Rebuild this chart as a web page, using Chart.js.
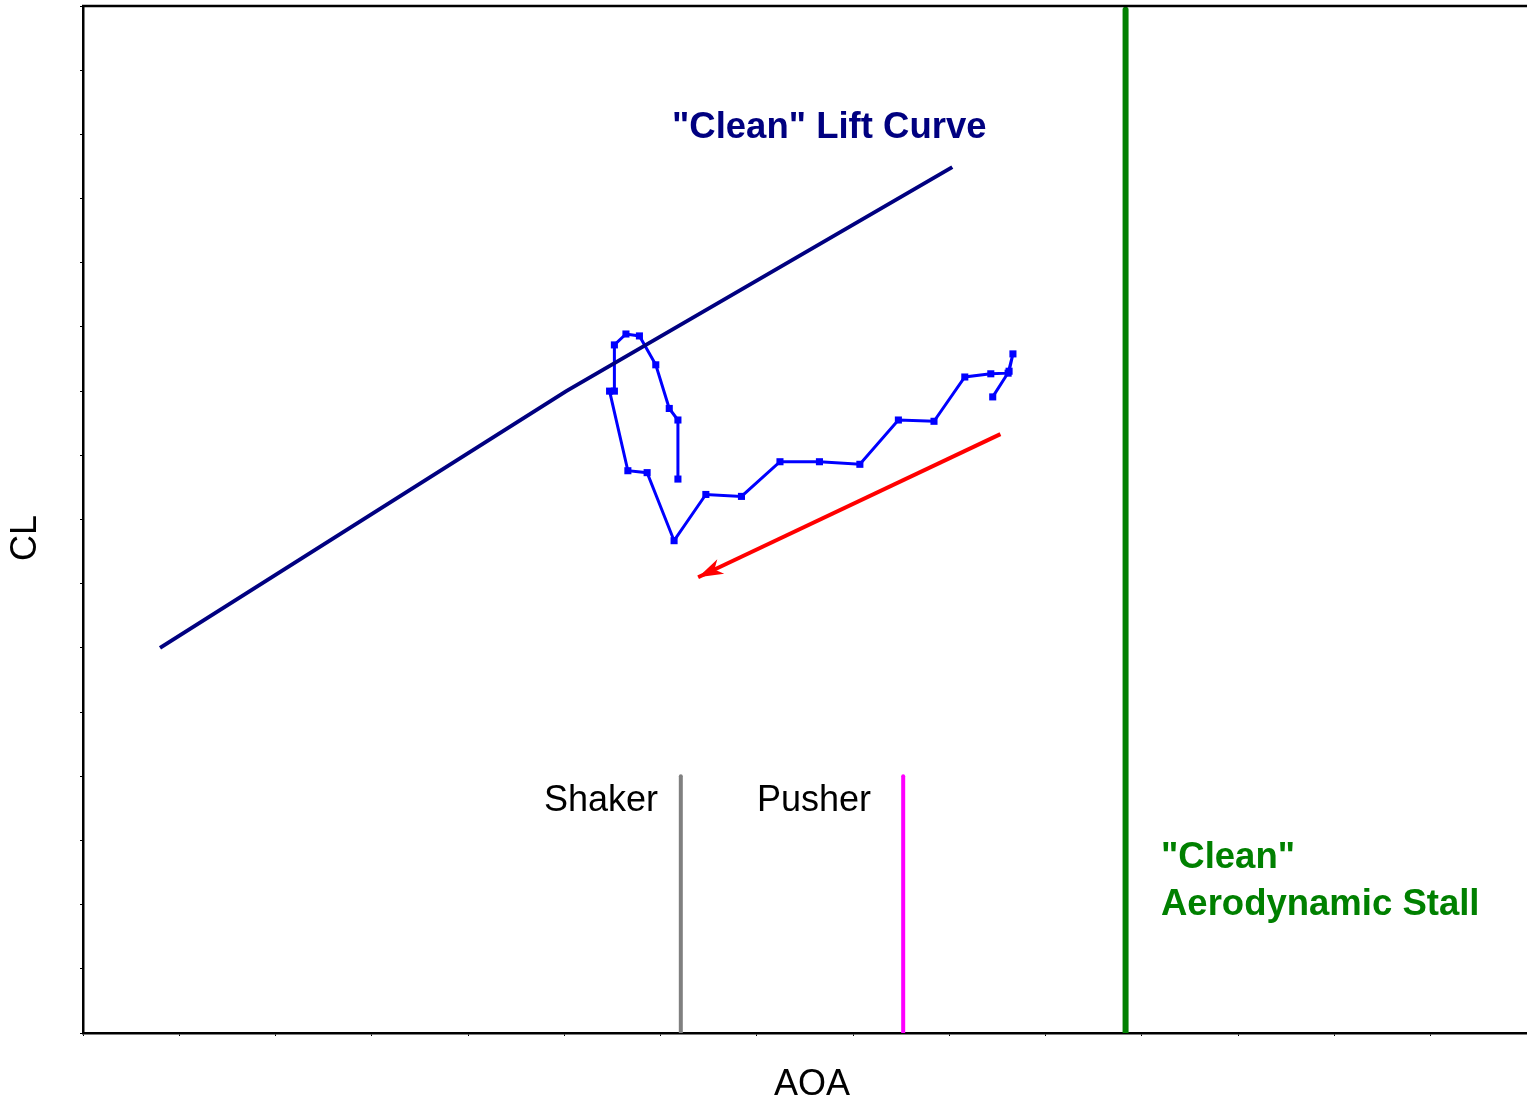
<!DOCTYPE html>
<html>
<head>
<meta charset="utf-8">
<title>CL vs AOA</title>
<script src="https://cdn.jsdelivr.net/npm/chart.js@4/dist/chart.umd.min.js"></script>
<style>
  html, body { margin: 0; padding: 0; background: #fff; }
  canvas { display: block; }
</style>
</head>
<body>
<canvas id="cl-chart" width="1527" height="1101"></canvas>
<script>
// axis ranges (no tick labels, just marks every 1 unit)
const xRange = [0, 15];
const yRange = [0, 16];

// "clean" lift curve
const liftAoa = [0.80, 5.02, 9.03];
const liftCl = [6.00, 10.00, 13.49];

// measured trace (blue, square markers)
const traceAoa = [6.18, 6.18, 6.09, 5.95, 5.78, 5.64, 5.52, 5.52, 5.47, 5.66, 5.86, 6.14,
  6.47, 6.84, 7.24, 7.65, 8.07, 8.47, 8.84, 9.16, 9.43, 9.61, 9.66, 9.62, 9.45];
const traceCl = [8.63, 9.55, 9.73, 10.41, 10.86, 10.89, 10.72, 10.00, 10.00, 8.76, 8.73, 7.67,
  8.39, 8.36, 8.90, 8.90, 8.86, 9.55, 9.53, 10.22, 10.27, 10.28, 10.58, 10.31, 9.91];

// vertical reference lines
const stallAoa = 10.83;
const stallCl = [0, 15.94];
const shakerAoa = 6.21;
const pusherAoa = 8.52;
const warnCl = [0, 4.0];

// red trend arrow (tail -> tip)
const arrowAoa = [9.53, 6.39];
const arrowCl = [9.33, 7.10];

const FONT = "'Liberation Sans', Arial, Helvetica, sans-serif";

function pts(xs, ys) { return xs.map((x, i) => ({ x, y: ys[i] })); }
function vline(x, ys) { return ys.map(y => ({ x, y })); }

// text + arrow head + top frame line
const annotations = {
  id: 'annotations',
  afterDatasetsDraw(chart) {
    const { ctx, chartArea, scales: { x, y } } = chart;
    ctx.save();

    // top frame line
    ctx.strokeStyle = '#000';
    ctx.lineWidth = 2.5;
    ctx.beginPath();
    ctx.moveTo(chartArea.left - 1, chartArea.top);
    ctx.lineTo(chart.width, chartArea.top);
    ctx.stroke();

    // arrow head at the tip
    const tx = x.getPixelForValue(arrowAoa[1]), ty = y.getPixelForValue(arrowCl[1]);
    const sx = x.getPixelForValue(arrowAoa[0]), sy = y.getPixelForValue(arrowCl[0]);
    const len = Math.hypot(tx - sx, ty - sy);
    const ux = (tx - sx) / len, uy = (ty - sy) / len;
    const nx = -uy, ny = ux;
    ctx.fillStyle = '#ff0000';
    ctx.beginPath();
    ctx.moveTo(tx, ty);
    ctx.lineTo(tx - 25 * ux + 8 * nx, ty - 25 * uy + 8 * ny);
    ctx.lineTo(tx - 18 * ux, ty - 18 * uy);
    ctx.lineTo(tx - 25 * ux - 8 * nx, ty - 25 * uy - 8 * ny);
    ctx.closePath();
    ctx.fill();

    ctx.textBaseline = 'alphabetic';
    ctx.textAlign = 'left';

    ctx.font = 'bold 36.5px ' + FONT;
    ctx.fillStyle = '#000080';
    ctx.fillText('"Clean" Lift Curve', 672, 138);

    ctx.fillStyle = '#008000';
    ctx.fillText('"Clean"', 1161, 868);
    ctx.fillText('Aerodynamic Stall', 1161, 915);

    ctx.font = '36px ' + FONT;
    ctx.fillStyle = '#000';
    ctx.fillText('Shaker', 544, 811);
    ctx.fillText('Pusher', 757, 811);

    // axis titles
    ctx.textAlign = 'center';
    ctx.fillText('AOA', 812, 1095);
    ctx.translate(26, 538);
    ctx.rotate(-Math.PI / 2);
    ctx.textBaseline = 'middle';
    ctx.fillText('CL', 0, 0);

    ctx.restore();
  }
};

const flat = { pointRadius: 0, showLine: true, fill: false, tension: 0 };

new Chart(document.getElementById('cl-chart'), {
  type: 'scatter',
  data: {
    datasets: [
      { label: 'Lift curve', data: pts(liftAoa, liftCl), borderColor: '#000080', borderWidth: 4, ...flat },
      { label: 'Trace', data: pts(traceAoa, traceCl), borderColor: '#0000ff', borderWidth: 3,
        showLine: true, fill: false, tension: 0,
        pointStyle: 'rect', pointRadius: 5, pointBackgroundColor: '#0000ff', pointBorderWidth: 0 },
      { label: 'Trend', data: pts(arrowAoa, arrowCl), borderColor: '#ff0000', borderWidth: 4, ...flat },
      { label: 'Stall', data: vline(stallAoa, stallCl), borderColor: '#008000', borderWidth: 6,
        borderCapStyle: 'round', ...flat },
      { label: 'Shaker', data: vline(shakerAoa, warnCl), borderColor: '#808080', borderWidth: 4,
        borderCapStyle: 'round', ...flat },
      { label: 'Pusher', data: vline(pusherAoa, warnCl), borderColor: '#ff00ff', borderWidth: 4,
        borderCapStyle: 'round', ...flat }
    ]
  },
  options: {
    responsive: false,
    animation: false,
    layout: { autoPadding: false, padding: { top: 6, right: 0, bottom: 0, left: 0 } },
    plugins: { legend: { display: false }, tooltip: { enabled: false } },
    scales: {
      x: {
        type: 'linear', min: xRange[0], max: xRange[1],
        ticks: { display: false, stepSize: 1 },
        grid: { drawOnChartArea: false, drawTicks: true, tickLength: 3, color: '#000', lineWidth: 1 },
        border: { display: true, color: '#000', width: 2.5 },
        afterFit(scale) { scale.height = 68; scale.paddingLeft = 0; scale.paddingRight = 0; }
      },
      y: {
        type: 'linear', min: yRange[0], max: yRange[1],
        ticks: { display: false, stepSize: 1 },
        grid: { drawOnChartArea: false, drawTicks: true, tickLength: 3, color: '#000', lineWidth: 1 },
        border: { display: true, color: '#000', width: 2.5 },
        afterFit(scale) { scale.width = 83; scale.paddingTop = 0; scale.paddingBottom = 0; }
      }
    }
  },
  plugins: [annotations]
});
</script>
</body>
</html>
